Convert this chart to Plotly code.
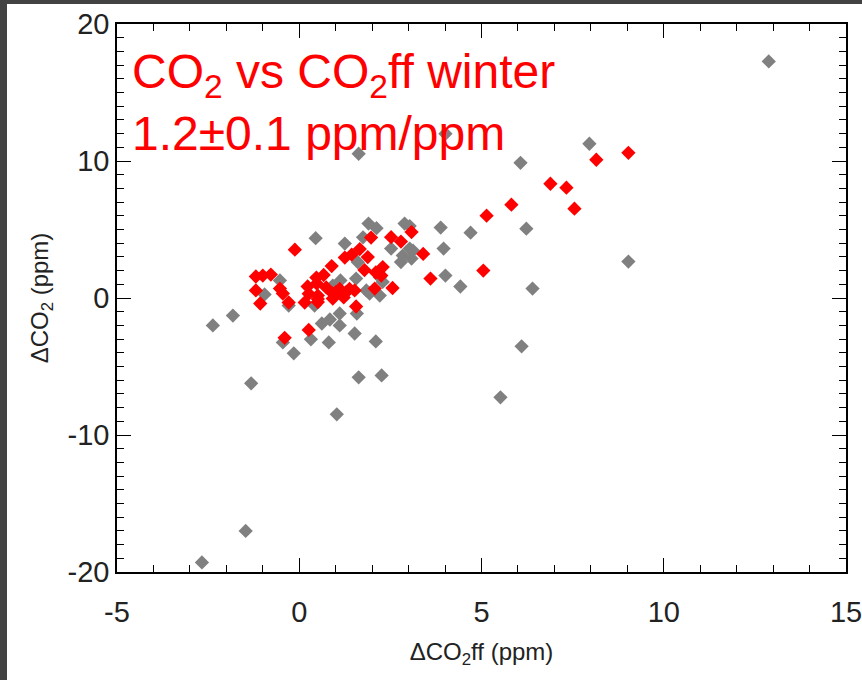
import plotly.graph_objects as go

# ΔCO2ff (x) and ΔCO2 (y), ppm — all winter samples (gray)
all_x = [12.88, 4.01, 1.63, 7.96, 6.07, 3.88, 4.70, 6.23, 3.96, 4.01, 4.42, 6.40, 9.03,
         -2.37, -1.82, -0.45, -0.15, 0.32, 0.62, 0.84, 1.11, 1.11, 0.81, 1.52, 1.58, 2.10,
         6.10, -1.32, 1.63, 2.26, 5.52, 1.03, -1.47, -2.67, 0.45, 1.90, 2.12, 2.89, 3.03,
         1.25, 2.52, 2.84, 3.03, 2.79, 3.08, -0.53, -0.95, -0.29, 0.42, 0.92, 1.56, 1.93,
         2.21, 2.29, 1.13, 1.84, 1.75, 1.61, 2.21, 3.12]
all_y = [17.27, 11.99, 10.53, 11.26, 9.87, 5.14, 4.77, 5.06, 3.61, 1.64, 0.84, 0.69, 2.66,
         -2.00, -1.28, -3.24, -4.04, -3.02, -1.86, -1.57, -1.13, -2.00, -3.24, -2.59, -1.13, -3.17,
         -3.53, -6.23, -5.79, -5.65, -7.25, -8.49, -17.0, -19.3, 4.37, 5.43, 5.10, 5.43, 5.25,
         3.97, 3.61, 3.10, 3.61, 2.62, 2.88, 1.28, 0.26, -0.55, -0.55, 0.91, 1.42, 0.33,
         0.18, 1.17, 1.28, 0.55, 4.43, 2.61, 1.52, 3.46]

# Selected subset (red)
sel_x = [-0.12, -1.19, -1.00, -0.78, -1.19, -1.07, -0.53, -0.45, -0.29, 0.15, 0.23, 0.47,
         0.67, 0.51, 0.89, 0.74, 0.92, 1.11, 1.29, 0.92, 1.25, 1.44, 1.66, 1.52, 1.22, 1.56,
         1.88, 1.97, 1.79, 2.10, 2.29, 2.25, 2.07, 2.56, 2.52, 2.79, 3.08, 3.40, 3.60, 0.26,
         -0.40, 5.05, 5.14, 5.82, 6.89, 7.33, 7.55, 8.15, 9.03, 0.48, 1.01, 1.38, 0.51, 0.26,
         0.51]
sel_y = [3.53, 1.57, 1.64, 1.71, 0.55, -0.40, 0.69, 0.33, -0.33, -0.33, 0.84, 1.49,
         1.68, 0.18, 2.33, 0.77, 0.33, 0.66, 0.44, -0.04, 2.95, 3.17, 3.57, 0.55, 0.04, -0.62,
         2.99, 4.41, 2.04, 1.86, 2.26, 1.64, 0.69, 0.73, 4.44, 4.12, 4.81, 3.22, 1.42, -2.33,
         -2.91, 2.00, 6.01, 6.81, 8.34, 8.05, 6.52, 10.09, 10.60, 1.06, 0.44, 0.66, -0.07, 0.31,
         -0.30]

# axis ticks (labels use a plain hyphen for negatives)
x_ticks = [-5, 0, 5, 10, 15]
x_ticklabels = ["-5", "0", "5", "10", "15"]
y_ticks = [-20, -10, 0, 10, 20]
y_ticklabels = ["-20", "-10", "0", "10", "20"]

title_lines = ["CO<sub>2</sub> vs CO<sub>2</sub>ff winter", "1.2±0.1 ppm/ppm"]
x_title = "ΔCO<sub>2</sub>ff (ppm)"
y_title = "ΔCO<sub>2</sub> (ppm)"

FONT = "Liberation Sans, Arial, Helvetica, sans-serif"
TEXT = "#222222"
W, H = 862, 680
ML, MR, MT, MB = 117, 16, 24, 108
PW, PH = W - ML - MR, H - MT - MB

fig = go.Figure()
fig.add_trace(go.Scatter(x=all_x, y=all_y, mode="markers",
                         marker=dict(symbol="diamond", size=11, color="#808080",
                                     line=dict(width=0)),
                         showlegend=False, hoverinfo="skip"))
fig.add_trace(go.Scatter(x=sel_x, y=sel_y, mode="markers",
                         marker=dict(symbol="diamond", size=11, color="#ff0000",
                                     line=dict(width=0)),
                         showlegend=False, hoverinfo="skip"))

axis_common = dict(
    automargin=False, showgrid=False, zeroline=False, showline=True,
    linecolor="black", linewidth=1.5, mirror="allticks",
    ticks="inside", ticklen=14, tickwidth=1, tickcolor="black",
    tickmode="array", ticklabeloverflow="allow",
    tickfont=dict(family=FONT, size=29, color=TEXT),
)

fig.update_xaxes(range=[-5, 15], tickvals=x_ticks, ticktext=x_ticklabels,
                 ticklabelstandoff=13,
                 minor=dict(ticks="inside", ticklen=7, tickwidth=1, tickcolor="black",
                            tick0=0, dtick=1),
                 title=dict(text=x_title, font=dict(family=FONT, size=24, color=TEXT),
                            standoff=17),
                 **axis_common)
fig.update_yaxes(range=[-20, 20], tickvals=y_ticks, ticktext=y_ticklabels,
                 minor=dict(ticks="inside", ticklen=7, tickwidth=1, tickcolor="black",
                            tick0=0, dtick=1),
                 title=dict(text=y_title, font=dict(family=FONT, size=24, color=TEXT),
                            standoff=12),
                 **axis_common)

fig.add_annotation(x=0, y=1, xref="paper", yref="paper", xanchor="left", yanchor="top",
                   xshift=13, yshift=-19, align="left", showarrow=False,
                   text="<br>".join(title_lines),
                   font=dict(family=FONT, size=48, color="#ff0000"))

# dark window edge along the left and top of the page
edge = "#424242"
fig.add_shape(type="rect", xref="paper", yref="paper", layer="above", line_width=0,
              fillcolor=edge, x0=-ML / PW, x1=(7 - ML) / PW,
              y0=-MB / PH, y1=1 + MT / PH)
fig.add_shape(type="rect", xref="paper", yref="paper", layer="above", line_width=0,
              fillcolor=edge, x0=-ML / PW, x1=1 + MR / PW,
              y0=1 + (MT - 4) / PH, y1=1 + MT / PH)

fig.update_layout(width=W, height=H, autosize=False,
                  margin=dict(l=ML, r=MR, t=MT, b=MB, autoexpand=False),
                  paper_bgcolor="white", plot_bgcolor="white",
                  font=dict(family=FONT, color=TEXT))

fig.write_html("out.html")
